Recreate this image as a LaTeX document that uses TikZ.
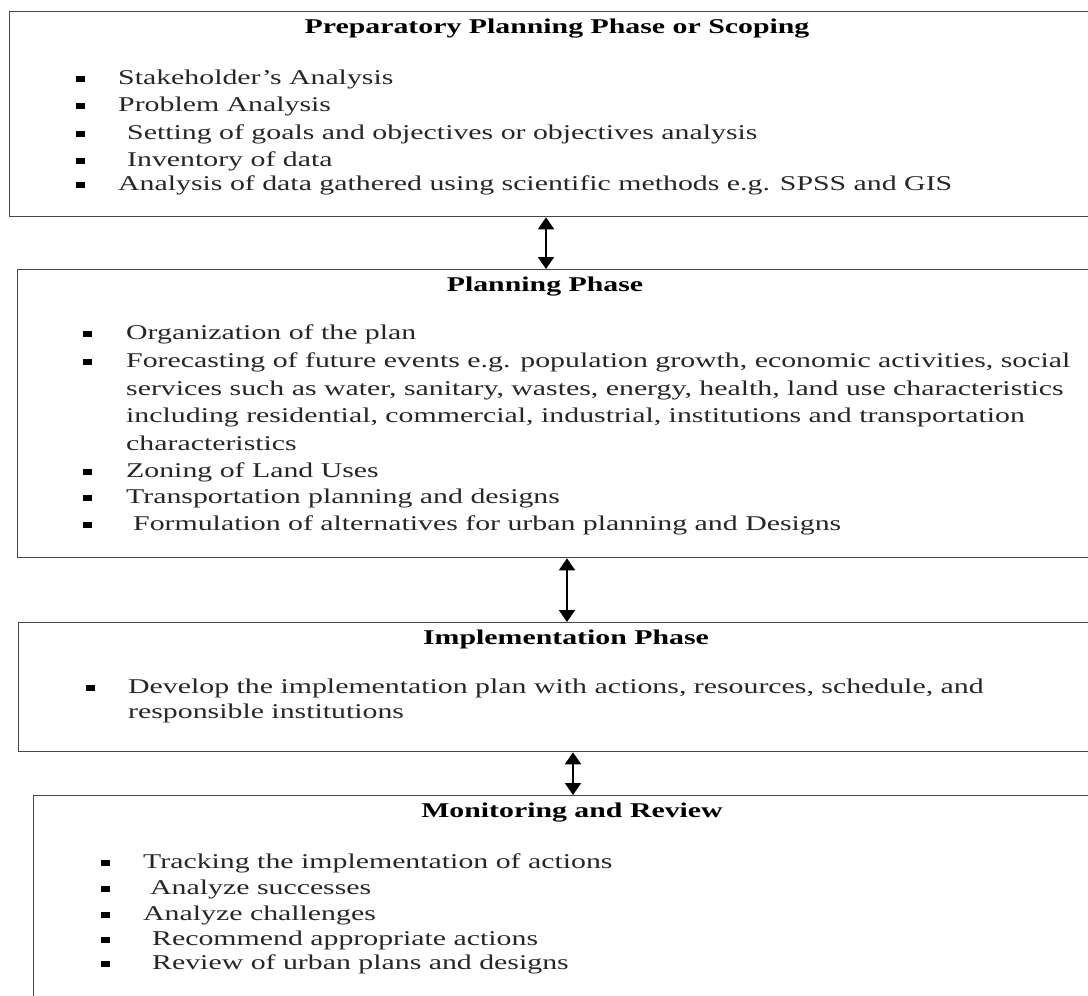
\documentclass[tikz,border=0pt]{standalone}
\usepackage{fontspec}
\setmainfont{Liberation Serif}[FakeStretch=1.42]
\usetikzlibrary{arrows.meta}
\begin{document}
\begin{tikzpicture}[x=1pt,y=-1pt,
  box/.style={draw=black!72,line width=1.3pt,anchor=north west,inner sep=0pt},
  ttl/.style={anchor=base,inner sep=0pt,font=\fontsize{21}{25}\selectfont\bfseries},
  itm/.style={anchor=base west,inner sep=0pt,font=\fontsize{21}{25}\selectfont,text=black!85},
  bul/.style={fill=black,draw=none,minimum width=9pt,minimum height=6.5pt,inner sep=0pt},
  arr/.style={{Triangle[width=16pt,length=12pt]}-{Triangle[width=16pt,length=12pt]},line width=1.8pt}]
\useasboundingbox (0,0) rectangle (1088,996);
\clip (0,0) rectangle (1088,996);
\fill[white] (0,0) rectangle (1088,996);
% boxes
\node[box,minimum width=1100pt,minimum height=205pt] (b1) at (9,11) {};
\node[box,minimum width=1100pt,minimum height=288pt] (b2) at (17,269) {};
\node[box,minimum width=1100pt,minimum height=129pt] (b3) at (18,622) {};
\node[box,minimum width=1100pt,minimum height=240pt] (b4) at (33,795) {};
% arrows
\coordinate (x1) at (546,0);
\coordinate (x2) at (567,0);
\coordinate (x3) at (573,0);
\draw[arr] (b1.south -| x1) -- (b2.north -| x1);
\draw[arr] (b2.south -| x2) -- (b3.north -| x2);
\draw[arr] (b3.south -| x3) -- (b4.north -| x3);
% box 1
\node[ttl] (t1) at (557,33) {Preparatory Planning Phase or Scoping};
\node[bul] (p1) at (80,79) {};
\node[bul] (p2) at (80,106) {};
\node[bul] (p3) at (80,134) {};
\node[bul] (p4) at (80,161) {};
\node[bul] (p5) at (80,185) {};
\node[itm] (s1) at (118,84) {Stakeholder’s Analysis};
\node[itm] (s2) at (118,111) {Problem Analysis};
\node[itm] (s3) at (127,139) {Setting of goals and objectives or objectives analysis};
\node[itm] (s4) at (127,166) {Inventory of data};
\node[itm] (s5) at (118,190) {Analysis of data gathered using scientific methods e.g. SPSS and GIS};
% box 2
\node[ttl] (t2) at (545,291) {Planning Phase};
\node[bul] (q1) at (87,334) {};
\node[bul] (q2) at (87,362) {};
\node[bul] (q6) at (87,472) {};
\node[bul] (q7) at (87,498) {};
\node[bul] (q8) at (87,525) {};
\node[itm] (r1) at (126,339) {Organization of the plan};
\node[itm] (r2) at (126,367) {Forecasting of future events e.g. population growth, economic activities, social};
\node[itm] (r3) at (126,395) {services such as water, sanitary, wastes, energy, health, land use characteristics};
\node[itm] (r4) at (126,422) {including residential, commercial, industrial, institutions and transportation};
\node[itm] (r5) at (126,450) {characteristics};
\node[itm] (r6) at (126,477) {Zoning of Land Uses};
\node[itm] (r7) at (126,503) {Transportation planning and designs};
\node[itm] (r8) at (133,530) {Formulation of alternatives for urban planning and Designs};
% box 3
\node[ttl] (t3) at (566,644) {Implementation Phase};
\node[bul] (u1) at (90,688) {};
\node[itm] (v1) at (128,693) {Develop the implementation plan with actions, resources, schedule, and};
\node[itm] (v2) at (128,718) {responsible institutions};
% box 4
\node[ttl] (t4) at (572,817) {Monitoring and Review};
\node[bul] (w1) at (105,863) {};
\node[bul] (w2) at (105,889) {};
\node[bul] (w3) at (105,915) {};
\node[bul] (w4) at (105,940) {};
\node[bul] (w5) at (105,964) {};
\node[itm] (z1) at (143,868) {Tracking the implementation of actions};
\node[itm] (z2) at (150,894) {Analyze successes};
\node[itm] (z3) at (143,920) {Analyze challenges};
\node[itm] (z4) at (152,945) {Recommend appropriate actions};
\node[itm] (z5) at (152,969) {Review of urban plans and designs};
\end{tikzpicture}
\end{document}
